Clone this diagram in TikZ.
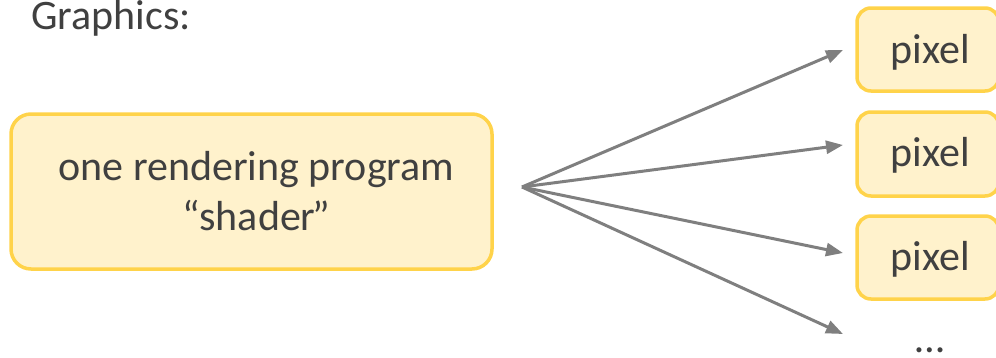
\documentclass[tikz,border=0pt]{standalone}
\usepackage{fontspec}
\setmainfont{Carlito}
\usetikzlibrary{arrows.meta,calc}
\definecolor{boxfill}{HTML}{FFF2CC}
\definecolor{boxline}{HTML}{FFD34A}
\definecolor{txt}{HTML}{404040}
\definecolor{arr}{HTML}{7F7F7F}
\tikzset{
  ybox/.style={draw=boxline, fill=boxfill, line width=3.5pt, rounded corners=20pt, inner sep=0pt, text=txt, align=center},
  lbl/.style={text=txt, inner sep=0pt},
  conn/.style={draw=arr, line width=3pt, -{Triangle[length=17pt,width=13pt]}}
}
\begin{document}
\begin{tikzpicture}[x=1pt,y=-1pt,font=\fontsize{42}{50}\selectfont]
\useasboundingbox (0,0) rectangle (996,357);
\node[lbl, anchor=base west] (title) at (31,29) {Graphics:};
\node[ybox, minimum width=481pt, minimum height=155pt] (prog) at (251.5,191.5) {\hspace*{10pt}one rendering program\\\hspace*{10pt}“shader\kern-3pt”};
\node[ybox, minimum width=142pt, minimum height=83pt, rounded corners=14pt] (p1) at (928,49.5) {};
\node[ybox, minimum width=142pt, minimum height=84pt, rounded corners=14pt] (p2) at (928,154) {};
\node[ybox, minimum width=142pt, minimum height=83pt, rounded corners=14pt] (p3) at (928,257.5) {};
\node[lbl, anchor=base] (t1) at (930,63) {pixel};
\node[lbl, anchor=base] (t2) at (930,166) {pixel};
\node[lbl, anchor=base] (t3) at (930,270) {pixel};
\node[lbl, anchor=base] (dots) at (930,352) {…};
\coordinate (src) at (522,187);
\coordinate (e1) at (843,50);
\coordinate (e2) at (843,145);
\coordinate (e3) at (843,253);
\coordinate (e4) at (843,334);
\draw[conn] (src) -- (e1);
\draw[conn] (src) -- (e2);
\draw[conn] (src) -- (e3);
\draw[conn] (src) -- (e4);
\end{tikzpicture}
\end{document}
